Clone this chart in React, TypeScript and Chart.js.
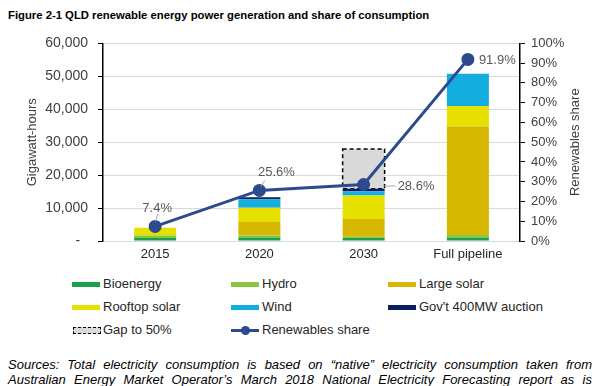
import React, { useEffect, useRef } from 'react';
import { Chart, registerables } from 'chart.js';

Chart.register(...registerables);

const categories = ['2015', '2020', '2030', 'Full pipeline'];
const bioenergy = [900, 1100, 900, 1100];
const hydro = [800, 600, 400, 700];
const largeSolar = [0, 4100, 5400, 33000];
const rooftopSolar = [2300, 4300, 7100, 6200];
const wind = [0, 2600, 1300, 9800];
const govAuction = [0, 600, 800, 0];
const gapTo50 = [0, 0, 12000, 0];
const renewablesShare = [7.4, 25.6, 28.6, 91.9];

const FONT = '"Liberation Sans", Arial, Helvetica, sans-serif';
const TEXT = '#404040';

const C = {
  bio: '#1aa14b',
  hydro: '#8cc63f',
  large: '#d7b800',
  roof: '#e6e000',
  wind: '#14ade0',
  gov: '#0b1f5c',
  gap: '#d9d9d9',
  line: '#2c4a8c',
};

const labelPlugin = {
  id: 'shareLabels',
  afterDatasetsDraw(chart: any) {
    const idx = chart.data.datasets.findIndex((d: any) => d.type === 'line');
    if (idx < 0) return;
    const meta = chart.getDatasetMeta(idx);
    const ctx = chart.ctx;
    const place = [
      { dx: 2, dy: -18, align: 'center', lead: [2.5, -12, 0.5, -5] },
      { dx: 17, dy: -18, align: 'center', lead: [5.5, -10, 1.5, -4] },
      { dx: 34, dy: 2, align: 'left', lead: [20, 1.5, 32, 1.5] },
      { dx: 11, dy: 1, align: 'left', lead: null as any },
    ];
    ctx.save();
    ctx.font = `13px ${FONT}`;
    ctx.fillStyle = '#595959';
    ctx.textBaseline = 'middle';
    meta.data.forEach((pt: any, i: number) => {
      const p = place[i];
      const v = renewablesShare[i];
      ctx.textAlign = p.align;
      ctx.fillText(v.toFixed(1) + '%', pt.x + p.dx, pt.y + p.dy);
      if (p.lead) {
        ctx.beginPath();
        ctx.strokeStyle = '#a6a6a6';
        ctx.lineWidth = 1;
        ctx.moveTo(pt.x + p.lead[0], pt.y + p.lead[1]);
        ctx.lineTo(pt.x + p.lead[2], pt.y + p.lead[3]);
        ctx.stroke();
      }
    });
    ctx.restore();
  },
};

const rightTitlePlugin = {
  id: 'rightTitle',
  afterDraw(chart: any) {
    const ctx = chart.ctx;
    const area = chart.chartArea;
    ctx.save();
    ctx.translate(chart.width - 25, (area.top + area.bottom) / 2);
    ctx.rotate(-Math.PI / 2);
    ctx.font = `13px ${FONT}`;
    ctx.fillStyle = TEXT;
    ctx.textAlign = 'center';
    ctx.textBaseline = 'middle';
    ctx.fillText('Renewables share', 0, 0);
    ctx.restore();
  },
};

const gapBorderPlugin = {
  id: 'gapBorder',
  afterDatasetDraw(chart: any, args: any) {
    const ds = chart.data.datasets[args.index];
    if (!ds || ds.label !== 'Gap to 50%') return;
    const ctx = chart.ctx;
    args.meta.data.forEach((el: any, i: number) => {
      if (!ds.data[i]) return;
      const { x, y, base, width } = el.getProps(['x', 'y', 'base', 'width'], true);
      ctx.save();
      ctx.setLineDash([4, 3]);
      ctx.lineWidth = 1.5;
      ctx.strokeStyle = '#000';
      ctx.strokeRect(x - width / 2, Math.min(y, base), width, Math.abs(base - y));
      ctx.restore();
    });
  },
};

const barSeries = [
  { label: 'Bioenergy', data: bioenergy, color: C.bio },
  { label: 'Hydro', data: hydro, color: C.hydro },
  { label: 'Large solar', data: largeSolar, color: C.large },
  { label: 'Rooftop solar', data: rooftopSolar, color: C.roof },
  { label: 'Wind', data: wind, color: C.wind },
  { label: "Gov't 400MW auction", data: govAuction, color: C.gov },
  { label: 'Gap to 50%', data: gapTo50, color: C.gap },
];

function ChartCanvas() {
  const ref = useRef<HTMLCanvasElement>(null);
  useEffect(() => {
    if (!ref.current) return;
    const datasets: any[] = barSeries.map((s) => ({
      type: 'bar',
      label: s.label,
      data: s.data,
      backgroundColor: s.color,
      borderWidth: 0,
      stack: 'gen',
      yAxisID: 'y',
      order: 1,
      categoryPercentage: 0.403,
      barPercentage: 1,
    }));
    datasets.push({
      type: 'line',
      label: 'Renewables share',
      data: renewablesShare,
      yAxisID: 'y1',
      borderColor: C.line,
      backgroundColor: C.line,
      borderWidth: 3,
      pointRadius: 5,
      pointBackgroundColor: C.line,
      pointBorderColor: C.line,
      tension: 0,
      order: 0,
    });
    const chart = new Chart(ref.current, {
      type: 'bar',
      data: { labels: categories, datasets },
      options: {
        animation: false,
        responsive: true,
        maintainAspectRatio: false,
        layout: { padding: { top: 12, left: 0, right: 0, bottom: 0 } },
        plugins: { legend: { display: false }, tooltip: { enabled: false } },
        scales: {
          x: {
            stacked: true,
            grid: { display: false, drawTicks: false },
            border: { display: false },
            ticks: { color: '#262626', font: { family: FONT, size: 13 }, padding: 6 },
            afterFit: (s: any) => { s.height = 29; },
          },
          y: {
            stacked: true,
            position: 'left',
            min: 0,
            max: 60000,
            ticks: {
              stepSize: 10000,
              color: TEXT,
              font: { family: FONT, size: 14 },
              padding: 10,
              callback: (v: any) => (v === 0 ? '-  ' : Number(v).toLocaleString('en-US')),
            },
            grid: { color: '#d9d9d9', lineWidth: 1, tickColor: '#000', tickLength: 5, tickWidth: 1 },
            border: { color: '#000', width: 1.5 },
            title: {
              display: true,
              text: 'Gigawatt-hours',
              color: TEXT,
              font: { family: FONT, size: 13 },
              padding: { top: 25, bottom: 0 },
            },
            afterFit: (s: any) => { s.width = 103; },
          },
          y1: {
            position: 'right',
            min: 0,
            max: 100,
            ticks: {
              stepSize: 10,
              color: TEXT,
              font: { family: FONT, size: 13 },
              padding: 6,
              callback: (v: any) => v + '%',
            },
            grid: { drawOnChartArea: false, tickColor: '#000', tickLength: 5, tickWidth: 1 },
            border: { color: '#000', width: 1.5 },
            afterFit: (s: any) => { s.width = 80; },
          },
        },
      } as any,
      plugins: [gapBorderPlugin, labelPlugin, rightTitlePlugin],
    });
    return () => chart.destroy();
  }, []);
  return (
    <div style={{ position: 'absolute', left: 0, top: 25, width: 600, height: 245 }}>
      <canvas ref={ref} />
    </div>
  );
}

const legendRows = [
  [barSeries[0], barSeries[1], barSeries[2]],
  [barSeries[3], barSeries[4], barSeries[5]],
];
const colX = [72, 231, 388];
const rowY = [284, 307, 330];

function Swatch({ color }: { color: string }) {
  return (
    <div style={{ position: 'absolute', left: 0, top: -2.5, width: 28, height: 5, background: color }} />
  );
}

function LegendItem({ x, y, label, icon }: { x: number; y: number; label: string; icon: React.ReactNode }) {
  return (
    <div style={{ position: 'absolute', left: x, top: y, height: 0 }}>
      {icon}
      <div
        style={{
          position: 'absolute',
          left: 31,
          top: -8,
          lineHeight: '16px',
          fontSize: 13,
          fontFamily: FONT,
          color: '#262626',
          whiteSpace: 'nowrap',
        }}
      >
        {label}
      </div>
    </div>
  );
}

export default function App() {
  return (
    <div
      style={{
        position: 'absolute',
        left: 0,
        top: 0,
        width: 600,
        height: 386,
        overflow: 'hidden',
        background: '#fff',
        fontFamily: FONT,
      }}
    >
      <div
        style={{
          position: 'absolute',
          left: 8,
          top: 8,
          fontSize: 11.3,
          lineHeight: '14px',
          fontWeight: 'bold',
          color: '#000',
          whiteSpace: 'nowrap',
        }}
      >
        Figure 2-1 QLD renewable energy power generation and share of consumption
      </div>
      <ChartCanvas />
      {legendRows.map((row, r) =>
        row.map((s, c) => (
          <LegendItem key={s.label} x={colX[c]} y={rowY[r]} label={s.label} icon={<Swatch color={s.color} />} />
        ))
      )}
      <LegendItem
        x={colX[0]}
        y={rowY[2]}
        label="Gap to 50%"
        icon={
          <div
            style={{
              position: 'absolute',
              left: 1,
              top: -3,
              width: 26,
              height: 5,
              background: C.gap,
              border: '1px dashed #000',
            }}
          />
        }
      />
      <LegendItem
        x={colX[1]}
        y={rowY[2]}
        label="Renewables share"
        icon={
          <div>
            <div style={{ position: 'absolute', left: 0, top: -1.5, width: 28, height: 3, background: C.line }} />
            <div
              style={{
                position: 'absolute',
                left: 9.5,
                top: -4.5,
                width: 9,
                height: 9,
                borderRadius: '50%',
                background: C.line,
              }}
            />
          </div>
        }
      />
      <div
        style={{
          position: 'absolute',
          left: 8,
          top: 357,
          width: 584,
          fontSize: 13,
          lineHeight: '15px',
          fontStyle: 'italic',
          color: '#000',
        }}
      >
        <div style={{ textAlign: 'justify', textAlignLast: 'justify' as any }}>
          Sources: Total electricity consumption is based on “native” electricity consumption taken from
        </div>
        <div style={{ textAlign: 'justify', textAlignLast: 'justify' as any }}>
          Australian Energy Market Operator’s March 2018 National Electricity Forecasting report as is
        </div>
      </div>
    </div>
  );
}
